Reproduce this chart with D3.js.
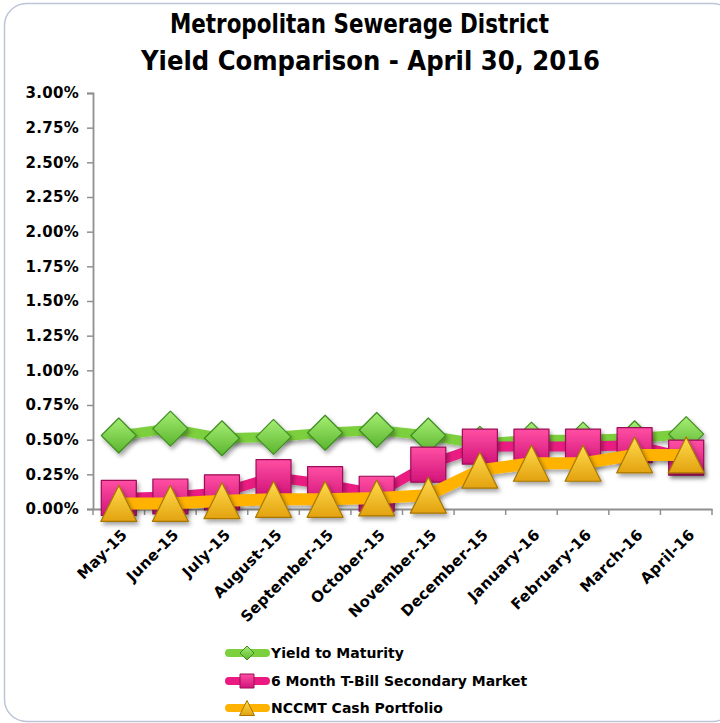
<!DOCTYPE html>
<html>
<head>
<meta charset="utf-8">
<script src="https://cdn.jsdelivr.net/npm/d3@7"></script>
<style>
  html, body { margin: 0; padding: 0; background: #ffffff; }
  svg { display: block; }
</style>
</head>
<body>
<div id="chart"></div>
<script>
// ---- data ----
const categories = ["May-15","June-15","July-15","August-15","September-15","October-15",
                    "November-15","December-15","January-16","February-16","March-16","April-16"];
const yieldToMaturity = [0.53, 0.58, 0.51, 0.52, 0.55, 0.57, 0.53, 0.47, 0.50, 0.50, 0.51, 0.54];
const tBill6Month     = [0.08, 0.09, 0.12, 0.23, 0.18, 0.11, 0.32, 0.45, 0.45, 0.45, 0.46, 0.37];
const nccmtCash       = [0.04, 0.04, 0.06, 0.07, 0.07, 0.08, 0.10, 0.28, 0.33, 0.33, 0.39, 0.39];
const yTicks = [0, 0.25, 0.5, 0.75, 1.0, 1.25, 1.5, 1.75, 2.0, 2.25, 2.5, 2.75, 3.0];
const titleLines = ["Metropolitan Sewerage District", "Yield Comparison - April 30, 2016"];
const seriesNames = ["Yield to Maturity", "6 Month T-Bill Secondary Market", "NCCMT Cash Portfolio"];

const W = 720, H = 723;
const svg = d3.select("#chart").append("svg").attr("width", W).attr("height", H);
const defs = svg.append("defs");

// drop shadow
const f = defs.append("filter").attr("id", "shadow").attr("x", "-50%").attr("y", "-50%").attr("width", "200%").attr("height", "200%");
f.append("feDropShadow").attr("dx", 2).attr("dy", 3).attr("stdDeviation", 2).attr("flood-color", "#000").attr("flood-opacity", 0.35);
const fg = defs.append("filter").attr("id", "gshadow").attr("x", "-5%").attr("y", "-200%").attr("width", "110%").attr("height", "500%");
fg.append("feDropShadow").attr("dx", 0).attr("dy", 1).attr("stdDeviation", 0.6).attr("flood-color", "#000").attr("flood-opacity", 0.25);

function grad(id, c1, c2) {
  const g = defs.append("linearGradient").attr("id", id).attr("x1", 0).attr("y1", 0).attr("x2", 0).attr("y2", 1);
  g.append("stop").attr("offset", "0%").attr("stop-color", c1);
  g.append("stop").attr("offset", "100%").attr("stop-color", c2);
}
grad("gGreen", "#a6ee74", "#5bb52d");
grad("gPink", "#ff4fa3", "#d2147a");
grad("gOrange", "#ffdc4e", "#e3a20f");

// frame
svg.append("rect").attr("x", 4.5).attr("y", 3.5).attr("width", 730).attr("height", 718)
  .attr("rx", 22).attr("fill", "#fff").attr("stroke", "#bcc5d6").attr("stroke-width", 1.5);

// title
const fontTitle = "'Liberation Sans Narrow','DejaVu Sans Condensed','Arial Narrow',sans-serif";
const titleGeom = [{y: 33, x1: 170, x2: 549}, {y: 70, x1: 141, x2: 600}];
svg.selectAll("text.title").data(titleLines).join("text")
  .attr("class", "title")
  .attr("x", (d, i) => titleGeom[i].x1)
  .attr("y", (d, i) => titleGeom[i].y)
  .attr("textLength", (d, i) => titleGeom[i].x2 - titleGeom[i].x1)
  .attr("lengthAdjust", "spacingAndGlyphs")
  .attr("font-family", fontTitle).attr("font-weight", "bold").attr("font-size", 27)
  .attr("fill", "#000").text(d => d);

// scales
const x = d3.scaleBand().domain(categories).range([93, 712]);
const y = d3.scaleLinear().domain([0, 3]).range([509, 93]);
const cx = d => x(d) + x.bandwidth() / 2;

const font = "'DejaVu Sans',sans-serif";

// gridlines
svg.append("g").selectAll("line").data(yTicks.filter(v => v > 0)).join("line")
  .attr("x1", 93).attr("x2", 712).attr("y1", d => y(d)).attr("y2", d => y(d))
  .attr("stroke", "#8f8f8f").attr("stroke-width", 1.8).attr("filter", "url(#gshadow)");

// y axis
const yAxis = d3.axisLeft(y).tickValues(yTicks).tickSize(6).tickPadding(8)
  .tickFormat(d => d.toFixed(2) + "%");
const gy = svg.append("g").attr("transform", "translate(93,0)").call(yAxis);
gy.select(".domain").attr("stroke", "#8f8f8f").attr("stroke-width", 1.8);
gy.selectAll(".tick line").attr("stroke", "#8f8f8f").attr("stroke-width", 1.5);
gy.selectAll(".tick text").attr("font-family", font).attr("font-weight", "bold")
  .attr("font-size", 15).attr("letter-spacing", 0.3).attr("fill", "#000");

// x axis
const xAxis = d3.axisBottom(x).tickSize(0).tickFormat(d => d);
const gx = svg.append("g").attr("transform", "translate(0,509)").call(xAxis);
gx.select(".domain").attr("stroke", "#8f8f8f").attr("stroke-width", 1.8);
gx.selectAll(".tick text")
  .attr("font-family", font).attr("font-weight", "bold").attr("font-size", 15)
  .attr("letter-spacing", 0.3).attr("fill", "#000")
  .attr("text-anchor", "end")
  .attr("transform", `translate(${x.bandwidth() / 2 - 26},17) rotate(-45)`)
  .attr("x", 0).attr("y", 0).attr("dy", "0.9em").attr("dx", 0);
// boundary ticks
const bounds = categories.map(c => x(c)).concat([x.range()[1]]);
svg.append("g").selectAll("line").data(bounds).join("line")
  .attr("x1", d => d).attr("x2", d => d).attr("y1", 509).attr("y2", 515)
  .attr("stroke", "#8f8f8f").attr("stroke-width", 1.5);

// series
const series = [
  {name: seriesNames[0], values: yieldToMaturity, line: "#7ccf3d", fill: "url(#gGreen)", stroke: "#3f8c22", shape: "diamond", lw: 10},
  {name: seriesNames[1], values: tBill6Month, line: "#ea1a82", fill: "url(#gPink)", stroke: "#9b0e57", shape: "square", lw: 10},
  {name: seriesNames[2], values: nccmtCash, line: "#ffb200", fill: "url(#gOrange)", stroke: "#a87600", shape: "triangle", lw: 12}
];

function shapePath(shape, s) {
  const h = s / 2;
  if (shape === "diamond") return `M0,${-h}L${h},0L0,${h}L${-h},0Z`;
  if (shape === "square") return `M${-h},${-h}H${h}V${h}H${-h}Z`;
  return `M0,${-h}L${h},${h}L${-h},${h}Z`;
}

const lineGen = d3.line().x(d => cx(d.c)).y(d => y(d.v));
series.forEach(s => {
  const pts = categories.map((c, i) => ({c, v: s.values[i]}));
  svg.append("path").datum(pts).attr("d", lineGen)
    .attr("fill", "none").attr("stroke", s.line).attr("stroke-width", s.lw)
    .attr("stroke-linejoin", "round").attr("stroke-linecap", "round")
    .attr("filter", "url(#shadow)");
  const size = s.shape === "diamond" ? 35 : (s.shape === "square" ? 35 : 36);
  svg.append("g").selectAll("path").data(pts).join("path")
    .attr("transform", d => `translate(${cx(d.c)},${y(d.v)})`)
    .attr("d", shapePath(s.shape, size))
    .attr("fill", s.fill).attr("stroke", s.stroke).attr("stroke-width", 1.2)
    .attr("stroke-linejoin", "round")
    .attr("filter", "url(#shadow)");
});

// legend
const legY = [653, 681, 708];
const leg = svg.append("g");
series.forEach((s, i) => {
  const g = leg.append("g").attr("transform", `translate(0,${legY[i]})`);
  g.append("line").attr("x1", 229).attr("x2", 266).attr("y1", 0).attr("y2", 0)
    .attr("stroke", s.line).attr("stroke-width", 8).attr("stroke-linecap", "round");
  g.append("path").attr("transform", "translate(247,0)")
    .attr("d", shapePath(s.shape, s.shape === "triangle" ? 15 : 14))
    .attr("fill", s.fill).attr("stroke", s.stroke).attr("stroke-width", 1);
  g.append("text").attr("x", 271).attr("y", 0).attr("dy", "0.36em")
    .attr("font-family", font).attr("font-weight", "bold").attr("font-size", 14)
    .attr("fill", "#000").text(s.name);
});
</script>
</body>
</html>
